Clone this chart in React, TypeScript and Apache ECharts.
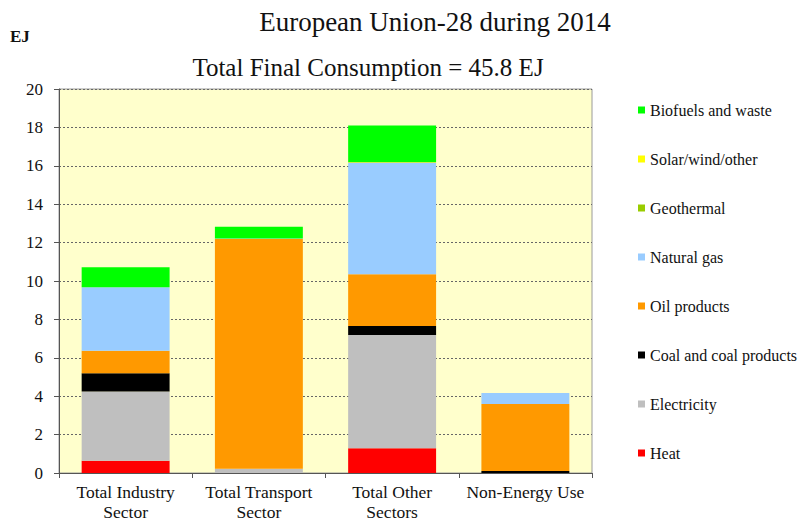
import React, { useEffect, useRef } from "react";
import * as echarts from "echarts";

const categories = ["Total Industry\nSector", "Total Transport\nSector", "Total Other\nSectors", "Non-Energy Use"];
const heat = [0.64, 0, 1.29, 0];
const electricity = [3.61, 0.22, 5.9, 0];
const coal = [0.95, 0, 0.47, 0.1];
const oil = [1.17, 11.97, 2.69, 3.49];
const naturalGas = [3.31, 0.03, 5.81, 0.58];
const geothermal = [0, 0, 0.02, 0];
const solar = [0, 0, 0.02, 0];
const biofuels = [1.03, 0.6, 1.9, 0];

const seriesDefs = [
  { name: "Heat", data: heat, color: "#FF0000" },
  { name: "Electricity", data: electricity, color: "#BFBFBF" },
  { name: "Coal and coal products", data: coal, color: "#000000" },
  { name: "Oil products", data: oil, color: "#FF9900" },
  { name: "Natural gas", data: naturalGas, color: "#99CCFF" },
  { name: "Geothermal", data: geothermal, color: "#99CC00" },
  { name: "Solar/wind/other", data: solar, color: "#FFFF00" },
  { name: "Biofuels and waste", data: biofuels, color: "#00FF00" },
];

const FONT = "Liberation Serif";

export default function App() {
  const ref = useRef<HTMLDivElement>(null);
  useEffect(() => {
    if (!ref.current) return;
    const chart = echarts.init(ref.current, null, { renderer: "svg" });
    chart.setOption({
      animation: false,
      backgroundColor: "#FFFFFF",
      textStyle: { fontFamily: FONT },
      title: [
        {
          text: "European Union-28 during 2014",
          left: 435,
          top: 8,
          padding: 0,
          textAlign: "center",
          textStyle: { fontFamily: FONT, fontSize: 27, fontWeight: "normal", color: "#111" },
        },
        {
          text: "Total Final Consumption = 45.8 EJ",
          left: 368,
          top: 55,
          padding: 0,
          textAlign: "center",
          textStyle: { fontFamily: FONT, fontSize: 25, fontWeight: "normal", color: "#111" },
        },
        {
          text: "EJ",
          left: 10,
          top: 28,
          padding: 0,
          textStyle: { fontFamily: FONT, fontSize: 17, fontWeight: "bold", color: "#111" },
        },
      ],
      legend: {
        orient: "vertical",
        left: 633,
        top: 97,
        icon: "rect",
        itemWidth: 7,
        itemHeight: 7,
        itemGap: 33,
        data: seriesDefs.map((s) => s.name).reverse(),
        textStyle: { fontFamily: FONT, fontSize: 16, color: "#111", lineHeight: 16 },
      },
      grid: {
        left: 59,
        right: 208,
        top: 89,
        bottom: 47,
        show: true,
        backgroundColor: "#FFFFCC",
        borderColor: "#9A9A9A",
        borderWidth: 1,
      },
      xAxis: {
        type: "category",
        data: categories,
        axisLine: { lineStyle: { color: "#555" } },
        axisTick: { show: true, length: 5, lineStyle: { color: "#555" } },
        axisLabel: { interval: 0, fontFamily: FONT, fontSize: 17.5, color: "#111", lineHeight: 20, margin: 9 },
      },
      yAxis: {
        type: "value",
        min: 0,
        max: 20,
        interval: 2,
        axisLine: { show: true, lineStyle: { color: "#555" } },
        axisTick: { show: true, length: 5, lineStyle: { color: "#555" } },
        axisLabel: { fontFamily: FONT, fontSize: 17, color: "#111", margin: 16 },
        splitLine: { show: true, lineStyle: { color: "#666", type: [2, 2], width: 1 } },
      },
      series: seriesDefs.map((s) => ({
        name: s.name,
        type: "bar",
        stack: "total",
        barWidth: "66%",
        data: s.data,
        itemStyle: { color: s.color },
      })),
    });
    return () => chart.dispose();
  }, []);
  return <div ref={ref} style={{ width: 800, height: 522, position: "fixed", left: 0, top: 0 }} />;
}
